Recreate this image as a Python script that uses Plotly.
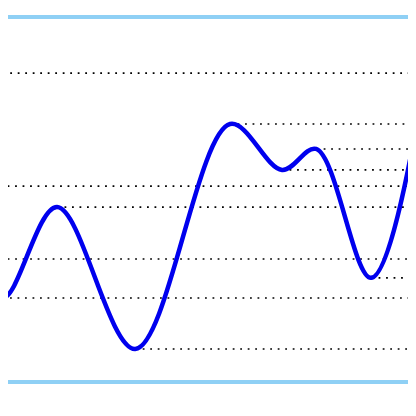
import plotly.graph_objects as go

# pontos da curva (alguns ficam fora da área visível)
x_vals = [-30, -18, -9, 0.6, 13.7, 32.5, 55.3, 67.8, 76.0, 89.2, 104.0]
y_vals = [85.0, 33.5, 53.7, 22.7, 47.9, 8.6, 70.9, 58.2, 64.0, 28.3, 97.0]

x_end = 130

fig = go.Figure()

# linhas pontilhadas saindo de cada ponto para a direita
for xv, yv in zip(x_vals, y_vals):
    fig.add_trace(go.Scatter(
        x=[xv, x_end], y=[yv, yv], mode="lines",
        line=dict(color="black", width=1.6, dash="1.8px,5.7px"),
        hoverinfo="skip", showlegend=False,
    ))

# curva principal
fig.add_trace(go.Scatter(
    x=x_vals, y=y_vals, mode="lines",
    line=dict(color="#0000ee", width=4.5, shape="spline"),
    showlegend=False,
))

fig.update_layout(
    width=408, height=400,
    margin=dict(l=0, r=0, t=11, b=28),
    paper_bgcolor="white", plot_bgcolor="white",
)
fig.update_xaxes(range=[1.92, 100], showgrid=False, zeroline=False, showticklabels=False,
                 showline=True, mirror=True, linecolor="#8fd0f5", linewidth=4)
fig.update_yaxes(range=[0, 100], showgrid=False, zeroline=False, showticklabels=False,
                 showline=False)

fig.write_html("out.html")
